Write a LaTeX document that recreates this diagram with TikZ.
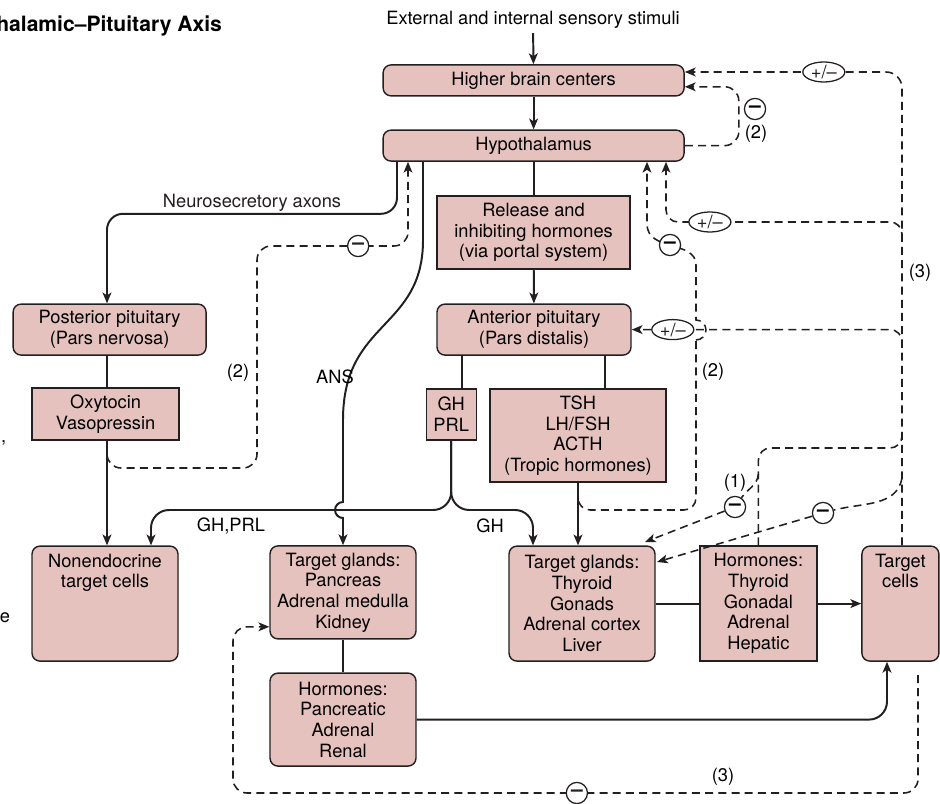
\documentclass[tikz,border=0pt]{standalone}
\usepackage{fontspec}
\setmainfont{TeX Gyre Heros}
\usetikzlibrary{arrows.meta,positioning,calc,shapes.geometric}
\definecolor{glandfill}{RGB}{230,194,190}
\definecolor{inkline}{RGB}{35,31,32}

\begin{document}
\begin{tikzpicture}[
  font=\fontsize{13}{14.7}\selectfont,
  gland/.style={draw=inkline,line width=1pt,fill=glandfill,
                rounded corners=0.2cm,align=center,inner sep=0pt},
  sq/.style={gland,sharp corners},
  ln/.style={inkline,line width=1.4pt},
  ar/.style={ln,-{Stealth[length=0.27cm,width=0.22cm,inset=0.07cm]}},
  dl/.style={inkline,line width=1.1pt,dash pattern=on 0.2cm off 0.13cm},
  fb/.style={dl,-{Stealth[length=0.27cm,width=0.22cm,inset=0.07cm]}},
  neg/.style={circle,draw=inkline,solid,line width=0.9pt,fill=white,
              minimum size=0.53cm,inner sep=0pt,font=\fontsize{15}{15}\selectfont\bfseries},
  pm/.style={ellipse,draw=inkline,solid,line width=0.9pt,fill=white,
             minimum width=1.05cm,minimum height=0.5cm,inner sep=0pt,
             font=\fontsize{13}{13}\selectfont},
  lab/.style={inner sep=1pt}]

  \useasboundingbox (0,0) rectangle (23.5,-20.1);

  \node[anchor=base west,inner sep=0pt,font=\fontsize{15}{18}\selectfont\bfseries]
    (title) at (-0.1,-0.8) {halamic–Pituitary Axis};
  \node[anchor=base west,inner sep=0pt] (cut1) at (0.02,-11.05) {,};
  \node[anchor=base west,inner sep=0pt] (cut2) at (-0.01,-15.55) {e};

  \node (stim) at (13.325,-0.49) {External and internal sensory stimuli};

  % brain and pituitary
  \node[gland,minimum width=7.525cm,minimum height=0.775cm] (hbc) at (13.34,-2.01) {Higher brain centers};
  \node[gland,minimum width=7.525cm,minimum height=0.775cm] (hyp) at (13.34,-3.64) {Hypothalamus};
  \node[sq,minimum width=4.825cm,minimum height=1.825cm] (rel) at (13.34,-5.81)
    {Release and\\inhibiting hormones\\(via portal system)};
  \node[gland,minimum width=4.85cm,minimum height=1.275cm] (ant) at (13.35,-8.24)
    {Anterior pituitary\\(Pars distalis)};
  \node[gland,minimum width=4.825cm,minimum height=1.275cm] (post) at (2.74,-8.24)
    {Posterior pituitary\\(Pars nervosa)};
  \node[sq,minimum width=3.675cm,minimum height=1.3cm] (oxy) at (2.64,-10.35)
    {Oxytocin\\Vasopressin};
  \node[sq,minimum width=1.25cm,minimum height=1.275cm] (ghprl) at (11.28,-10.36) {GH\\PRL};
  \node[sq,minimum width=4.4cm,minimum height=2.325cm] (tropic) at (14.45,-10.89)
    {TSH\\LH/FSH\\ACTH\\(Tropic hormones)};

  % targets
  \node[gland,minimum width=3.65cm,minimum height=2.875cm,
        label={[align=center,anchor=north,inner sep=0.2cm]north:Nonendocrine\\target cells}]
    (nonendo) at (2.625,-15.09) {};
  \node[gland,minimum width=3.65cm,minimum height=2.325cm] (tgpanc) at (8.575,-14.81)
    {Target glands:\\Pancreas\\Adrenal medulla\\Kidney};
  \node[gland,minimum width=3.65cm,minimum height=2.325cm] (hpanc) at (8.575,-17.99)
    {Hormones:\\Pancreatic\\Adrenal\\Renal};
  \node[gland,minimum width=3.65cm,minimum height=2.875cm] (tgthy) at (14.55,-15.09)
    {Target glands:\\Thyroid\\Gonads\\Adrenal cortex\\Liver};
  \node[sq,minimum width=2.925cm,minimum height=2.875cm] (hthy) at (18.96,-15.09)
    {Hormones:\\Thyroid\\Gonadal\\Adrenal\\Hepatic};
  \node[gland,minimum width=1.925cm,minimum height=2.875cm,
        label={[align=center,anchor=north,inner sep=0.2cm]north:Target\\cells}]
    (tcells) at (22.51,-15.09) {};

  % main chain
  \draw[ar] (stim) -- (hbc);
  \draw[ar] (hbc) -- (hyp);
  \draw[ln] (hyp) -- (rel);
  \draw[ar] (rel) -- (ant);
  \draw[ln] (ant.south -| 11.55,0) -- (ghprl.north -| 11.55,0);
  \draw[ln] (ant.south -| 15.125,0) -- (tropic.north -| 15.125,0);
  \draw[ln] (post.south -| 2.675,0) -- (oxy.north -| 2.675,0);
  \draw[ar] (oxy.south -| 2.675,0) -- (nonendo.north -| 2.675,0);
  \draw[ar] (tropic.south) -- (tropic.south |- tgthy.north);
  \draw[ln] (tgpanc) -- (hpanc);
  \draw[ln] (tgthy) -- (hthy);
  \draw[ar] (hthy) -- (tcells);
  \draw[ar,rounded corners=0.45cm] (hpanc.east) -| (tcells.south -| 22.175,0);

  % nerves
  \draw[ar,rounded corners=0.4cm] (hyp.south -| 9.925,0) -- ++(0,-1.3)
    -| node[lab,pos=0.25,above] {Neurosecretory axons} (post.north -| 2.675,0);
  \draw[ar] (hyp.south -| 10.575,0) -- (10.575,-6.0)
    .. controls (10.575,-8.25) and (8.575,-8.0) .. (8.575,-10.5)
    -- (8.575,-12.55) arc[start angle=90,end angle=270,radius=0.2cm] -- (tgpanc.north);
  \node[lab] at (8.375,-9.425) {ANS};

  % GH and PRL
  \draw[ar,rounded corners=0.45cm] (ghprl.south) |- (3.775,-12.75)
    -- (nonendo.north -| 3.775,0);
  \draw[ar,rounded corners=0.45cm] (ghprl.south) |- (13.325,-12.75)
    -- (tgthy.north -| 13.325,0);
  \node[lab] at (5.775,-13.15) {GH,PRL};
  \node[lab] at (12.25,-13.15) {GH};

  % short loops (2)
  \draw[fb,rounded corners=0.35cm] (hyp.east) -- ++(1.35,0) |- ($(hbc.east)+(0,-0.16)$);
  \node[neg] (n1) at (18.875,-2.725) {–};
  \node[lab] at (18.9,-3.35) {(2)};

  \draw[fb,rounded corners=0.35cm] (2.675,-11.05) |- (6.425,-11.7)
    |- node[neg,pos=0.835] (n2) {–} (10.2,-6.15) -- (10.2,0 |- hyp.south);
  \node[lab] at (5.95,-9.325) {(2)};

  \draw[dl,rounded corners=0.3cm] (14.45,-12.2) |- (17.4,-12.75) -- (17.4,-8.5);
  \draw[fb] (17.4,-8.5) arc[start angle=-90,end angle=90,radius=0.25cm] -- (17.4,-6.625)
    .. controls (17.4,-6.0) and (16.175,-6.3) .. (16.175,-5.6) -- (16.175,0 |- hyp.south);
  \node[neg] (n3) at (16.75,-6.125) {–};
  \node[lab] at (17.825,-9.3) {(2)};

  % long loops (3)
  \draw[fb,rounded corners=0.4cm] (tcells.north -| 22.55,0)
    |- node[pm,pos=0.68] (p1) {+/–} ($(hbc.east)+(0,0.21)$);
  \draw[fb,rounded corners=0.3cm] (22.55,-6.0)
    |- node[pm,pos=0.907] (p2) {+/–} (16.65,-5.55) -- (16.65,0 |- hyp.south);
  \draw[fb,rounded corners=0.3cm] (22.55,-8.7) |- node[pm,pos=0.924] (p3) {+/–} (ant.east);
  \node[lab] at (23.0,-6.825) {(3)};

  \draw[fb,rounded corners=0.35cm] (22.95,-16.875)
    |- node[neg,pos=0.749] (n4) {–} (5.825,-19.825) |- ($(tgpanc.west)+(0,-0.86)$);
  \node[lab] at (18.075,-19.425) {(3)};

  % loop (1) and hormone feedback
  \draw[dl,rounded corners=0.3cm] (hthy.north) |- (22.55,-11.2) -- (22.55,-10.85);
  \node[neg] (n5) at (18.375,-12.675) {–};
  \draw[fb] (18.96,-11.85) to[out=-95,in=55] (n5) -- (16.125,-13.55);
  \node[lab] at (18.375,-12.075) {(1)};
  \node[neg] (n6) at (20.575,-12.825) {–};
  \draw[fb] (22.55,-11.95) to[out=-100,in=15] (n6) -- (16.425,-14.05);
\end{tikzpicture}
\end{document}
